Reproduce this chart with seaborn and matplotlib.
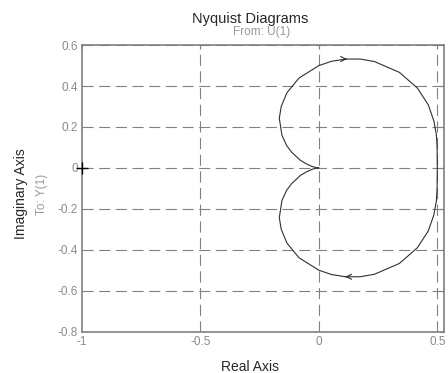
import matplotlib
matplotlib.use("Agg")
import matplotlib.pyplot as plt
import seaborn as sns
import pandas as pd

# Nyquist curve points
lower_re = [0.500, 0.499, 0.496, 0.485, 0.462, 0.416, 0.340, 0.234, 0.174, 0.112, 0.053, 0.000,
            -0.084, -0.135, -0.159, -0.167, -0.156, -0.136, -0.115, -0.078, -0.055, -0.031, -0.014, -0.005, 0.000]
lower_im = [0.000, -0.104, -0.163, -0.231, -0.308, -0.390, -0.467, -0.520, -0.532, -0.532, -0.521, -0.500,
            -0.439, -0.367, -0.300, -0.243, -0.160, -0.109, -0.077, -0.037, -0.021, -0.008, -0.002, -0.001, 0.000]
upper_re = [0.000, -0.005, -0.014, -0.031, -0.055, -0.078, -0.115, -0.136, -0.156, -0.167, -0.159, -0.135,
            -0.084, 0.000, 0.053, 0.112, 0.174, 0.234, 0.340, 0.416, 0.462, 0.485, 0.496, 0.499, 0.500]
upper_im = [0.000, 0.001, 0.002, 0.008, 0.021, 0.037, 0.077, 0.109, 0.160, 0.243, 0.300, 0.367,
            0.439, 0.500, 0.521, 0.532, 0.532, 0.520, 0.467, 0.390, 0.308, 0.231, 0.163, 0.104, 0.000]

x_ticks = [-1, -0.5, 0, 0.5]
x_tick_labels = ["-1", "-0.5", "0", "0.5"]
y_ticks = [-0.8, -0.6, -0.4, -0.2, 0, 0.2, 0.4, 0.6]
y_tick_labels = ["-0.8", "-0.6", "-0.4", "-0.2", "0", "0.2", "0.4", "0.6"]

sns.set_style("white")
plt.rcParams['font.family'] = ['Liberation Sans', 'DejaVu Sans']

df = pd.DataFrame({
    "re": upper_re + lower_re,
    "im": upper_im + lower_im,
    "branch": ["upper"] * len(upper_re) + ["lower"] * len(lower_re),
})

fig = plt.figure(figsize=(4.48, 3.73), dpi=100)
ax = fig.add_axes([0.183, 0.111, 0.809, 0.768])

grid_c = "#808080"
for xv in x_ticks[1:]:
    ax.axvline(xv, color=grid_c, lw=0.8, ls=(0, (10, 5)), zorder=1)
for yv in y_ticks[1:]:
    ax.axhline(yv, color=grid_c, lw=0.8, ls=(0, (10, 5)), zorder=1)

sns.lineplot(data=df, x="re", y="im", units="branch", estimator=None, sort=False,
             color="#303030", lw=0.8, ax=ax, zorder=3, legend=False)

# direction arrows
ax.annotate("", xy=(0.13, 0.532), xytext=(0.10, 0.532),
            arrowprops=dict(arrowstyle="->", color="#303030", lw=0.8, mutation_scale=9), zorder=4)
ax.annotate("", xy=(0.10, -0.532), xytext=(0.13, -0.532),
            arrowprops=dict(arrowstyle="->", color="#303030", lw=0.8, mutation_scale=9), zorder=4)

# critical point
ax.plot([-1], [0], marker="+", color="black", ms=9, mew=1.0, clip_on=False, zorder=5)

ax.set_xlim(-1, 0.53)
ax.set_ylim(-0.8, 0.6)
ax.set_xticks(x_ticks)
ax.set_xticklabels(x_tick_labels)
ax.set_yticks(y_ticks)
ax.set_yticklabels(y_tick_labels)
ax.tick_params(direction="in", length=3, width=0.8, colors="#8a8a8a", labelsize=8.5,
               top=True, right=True, pad=3)
for s in ax.spines.values():
    s.set_color(grid_c)
    s.set_linewidth(1.2)

ax.set_xlabel("")
ax.set_ylabel("")
fig.text(0.558, 0.016, "Real Axis", fontsize=10, ha="center", va="center")
fig.text(0.046, 0.48, "Imaginary Axis", rotation=90, fontsize=10, ha="center", va="center")
fig.text(0.093, 0.48, "To: Y(1)", rotation=90, fontsize=8.5, color="#999999", ha="center", va="center")
fig.text(0.558, 0.950, "Nyquist Diagrams", fontsize=10.5, ha="center", va="center")
fig.text(0.583, 0.914, "From: U(1)", fontsize=8.5, color="#999999", ha="center", va="center")

fig.savefig("out.png", dpi=100)
